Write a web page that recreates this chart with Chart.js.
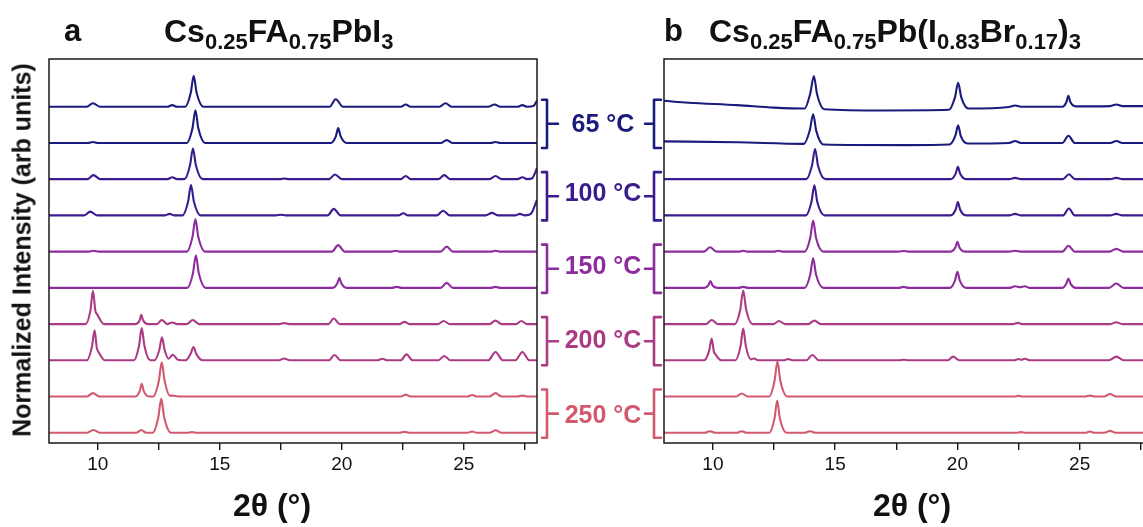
<!DOCTYPE html>
<html><head><meta charset="utf-8">
<script src="https://cdn.jsdelivr.net/npm/chart.js@4"></script>
<style>
html,body{margin:0;padding:0;background:#fff;width:1143px;height:527px;overflow:hidden;position:relative;font-family:"Liberation Sans",Arial,sans-serif;}
canvas{position:absolute;top:0;}
.t{position:absolute;font-weight:bold;color:#111;white-space:nowrap;}
.t sub{font-size:22px;vertical-align:-7px;line-height:0;}
.lab{position:absolute;font-weight:bold;font-size:25px;white-space:nowrap;transform:translate(-50%,-50%);}
</style></head><body>
<canvas id="ca" width="575" height="527" style="left:0"></canvas>
<canvas id="cb" width="563" height="527" style="left:600px"></canvas>
<div class="t" style="left:64px;top:13px;font-size:31px;">a</div>
<div class="t" style="left:164px;top:13px;font-size:32px;">Cs<sub>0.25</sub>FA<sub>0.75</sub>PbI<sub>3</sub></div>
<div class="t" style="left:664px;top:13px;font-size:31px;">b</div>
<div class="t" style="left:709px;top:13px;font-size:32px;">Cs<sub>0.25</sub>FA<sub>0.75</sub>Pb(I<sub>0.83</sub>Br<sub>0.17</sub>)<sub>3</sub></div>
<div class="t" style="left:22px;top:250px;font-size:25px;transform:translate(-50%,-50%) rotate(-90deg);">Normalized Intensity (arb units)</div>
<div class="t" style="left:272px;top:505px;font-size:32px;transform:translate(-50%,-50%);">2θ (°)</div>
<div class="t" style="left:912px;top:505px;font-size:32px;transform:translate(-50%,-50%);">2θ (°)</div>
<div id="labels"></div>
<script>
// ---- data: 2θ (deg) vs normalized intensity ----
const TEMPS = ['65 °C','100 °C','150 °C','200 °C','250 °C'];
const COLORS = ['#1b1b7d','#3b1b8e','#8d2c9c','#ab3b82','#d2596f'];
const X_TICKS = [10,12.5,15,17.5,20,22.5,25,27.5];

// Panel a: Cs0.25FA0.75PbI3 (top to bottom)
const A65a = [[8,0],[9.55,0],[9.8,0.11],[10.1,0],[12.85,0],[13.05,0.05],[13.25,0],[13.58,0],[13.81,0.45],[13.93,1.0],[14.05,0.45],[14.33,0],[19.5,0],[19.75,0.24],[20.05,0],[22.42,0],[22.62,0.07],[22.82,0],[24.0,0],[24.25,0.11],[24.5,0],[26.0,0],[26.26,0.07],[26.5,0],[27.2,0],[27.4,0.05],[27.6,0],[27.85,0.02],[28,0.2]];
const A65b = [[8,0],[9.6,0],[9.8,0.03],[10.0,0],[13.65,0],[13.88,0.47],[14.0,1.05],[14.12,0.47],[14.4,0],[19.55,0],[19.76,0.22],[19.85,0.48],[19.95,0.22],[20.2,0],[24.05,0],[24.3,0.09],[24.55,0],[26.1,0],[26.3,0.03],[26.5,0],[28,0]];
const A100a = [[8,0],[9.57,0],[9.82,0.13],[10.1,0],[12.85,0],[13.05,0.06],[13.25,0],[13.55,0],[13.78,0.45],[13.9,0.99],[14.02,0.45],[14.3,0],[17.45,0],[17.64,0.02],[17.85,0],[19.47,0],[19.72,0.15],[20.0,0],[22.42,0],[22.62,0.1],[22.82,0],[23.95,0],[24.2,0.13],[24.45,0],[26.05,0],[26.3,0.1],[26.55,0],[27.2,0],[27.4,0.06],[27.6,0],[27.8,0.03],[28,0.35]];
const A100b = [[8,0],[9.44,0],[9.69,0.12],[9.97,0],[12.74,0],[12.94,0.05],[13.14,0],[13.47,0],[13.7,0.44],[13.82,0.98],[13.94,0.44],[14.22,0],[17.3,0],[17.5,0.02],[17.7,0],[19.42,0],[19.67,0.21],[19.95,0],[22.32,0],[22.52,0.07],[22.72,0],[23.9,0],[24.15,0.15],[24.42,0],[25.9,0],[26.15,0.08],[26.4,0],[27.1,0],[27.3,0.05],[27.5,0],[27.75,0.05],[28,0.5]];
const A150a = [[8,0],[9.6,0],[9.82,0.03],[10.05,0],[13.65,0],[13.88,0.47],[14.0,1.05],[14.12,0.47],[14.4,0],[19.6,0],[19.85,0.21],[20.12,0],[22.0,0],[22.2,0.03],[22.4,0],[24.05,0],[24.3,0.16],[24.55,0],[26.1,0],[26.3,0.03],[26.5,0],[28,0]];
const A150b = [[8,0],[13.67,0],[13.9,0.47],[14.02,1.05],[14.14,0.47],[14.42,0],[19.62,0],[19.82,0.15],[19.9,0.32],[19.98,0.15],[20.2,0],[22.05,0],[22.25,0.03],[22.45,0],[24.05,0],[24.3,0.16],[24.55,0],[26.1,0],[26.3,0.03],[26.5,0],[28,0]];
const A200a = [[8,0],[9.5,0],[9.7,0.45],[9.8,1.07],[9.9,0.42],[9.97,0.32],[10.25,0],[11.55,0],[11.72,0.13],[11.78,0.3],[11.85,0.13],[12.05,0],[12.42,0],[12.62,0.13],[12.85,0],[13.05,0.05],[13.25,0],[13.65,0],[13.89,0.13],[14.15,0],[17.44,0],[17.64,0.03],[17.84,0],[19.45,0],[19.67,0.18],[19.92,0],[22.37,0],[22.57,0.07],[22.77,0],[23.95,0],[24.17,0.1],[24.42,0],[26.05,0],[26.3,0.11],[26.55,0],[27.15,0],[27.36,0.1],[27.58,0],[28,0]];
const A200b = [[8,0],[9.55,0],[9.76,0.44],[9.87,0.97],[9.96,0.4],[10.03,0.27],[10.3,0],[11.48,0],[11.69,0.47],[11.8,1.04],[11.91,0.47],[12.15,0],[12.32,0],[12.52,0.33],[12.63,0.74],[12.74,0.33],[12.9,0.05],[13.07,0.18],[13.28,0.02],[13.6,0],[13.8,0.2],[13.92,0.43],[14.04,0.2],[14.3,0],[17.42,0],[17.64,0.06],[17.86,0],[19.47,0],[19.7,0.17],[19.95,0],[21.46,0],[21.66,0.05],[21.86,0],[22.42,0],[22.65,0.19],[22.9,0],[23.95,0],[24.2,0.14],[24.45,0],[26.0,0],[26.3,0.27],[26.6,0],[27.12,0],[27.4,0.27],[27.68,0],[28,0]];
const A250a = [[8,0],[9.55,0],[9.8,0.11],[10.07,0],[11.55,0],[11.72,0.18],[11.8,0.41],[11.88,0.18],[12.1,0],[12.27,0],[12.5,0.5],[12.62,1.1],[12.74,0.5],[12.95,0.03],[13.05,0.03],[13.3,0],[22.42,0],[22.62,0.06],[22.82,0],[25.14,0],[25.34,0.05],[25.54,0],[26.05,0],[26.3,0.11],[26.55,0],[27.2,0],[27.4,0.03],[27.6,0],[28,0]];
const A250b = [[8,0],[9.55,0],[9.82,0.09],[10.1,0],[11.58,0],[11.78,0.09],[11.98,0],[12.25,0],[12.48,0.5],[12.6,1.1],[12.72,0.5],[13.0,0],[13.66,0],[13.86,0.02],[14.06,0],[22.37,0],[22.57,0.03],[22.77,0],[25.14,0],[25.34,0.04],[25.54,0],[26.05,0],[26.3,0.08],[26.55,0],[28,0]];

// Panel b: Cs0.25FA0.75Pb(I0.83Br0.17)3 (top to bottom)
const B65a = [[8,0.19],[9,0.13],[11,0.05],[12.5,-0.03],[13.75,-0.06],[13.98,0.42],[14.13,0.99],[14.26,0.4],[14.55,-0.08],[17,-0.12],[19.65,-0.1],[19.9,0.3],[20.03,0.77],[20.16,0.3],[20.45,-0.06],[22.1,-0.01],[22.36,0.04],[22.6,0],[24.3,0],[24.46,0.15],[24.54,0.35],[24.62,0.15],[24.85,0.01],[26.25,0.02],[26.5,0.07],[26.75,0.02],[28,0.02]];
const B65b = [[8,0.05],[11,0.02],[13.72,-0.03],[13.96,0.4],[14.1,0.92],[14.23,0.38],[14.52,-0.05],[18,-0.07],[19.68,-0.05],[19.92,0.24],[20.03,0.57],[20.14,0.22],[20.42,-0.02],[22.12,0],[22.36,0.06],[22.6,0],[24.3,0],[24.54,0.23],[24.8,0],[26.25,0],[26.5,0.06],[26.75,0],[28,0]];
const B100a = [[8,0],[13.82,0],[14.05,0.43],[14.18,0.97],[14.3,0.43],[14.6,0],[19.72,0],[19.93,0.18],[20.02,0.4],[20.11,0.18],[20.35,0],[22.12,0],[22.36,0.04],[22.6,0],[24.32,0],[24.56,0.16],[24.8,0],[26.25,0],[26.5,0.04],[26.75,0],[28,0]];
const B100b = [[8,0],[13.8,0],[14.03,0.43],[14.15,0.97],[14.27,0.43],[14.57,0],[19.72,0],[19.93,0.19],[20.02,0.43],[20.11,0.19],[20.35,0],[22.12,0],[22.36,0.05],[22.6,0],[24.32,0],[24.56,0.22],[24.8,0],[26.25,0],[26.5,0.05],[26.75,0],[28,0]];
const B150a = [[8,0],[9.63,0],[9.88,0.14],[10.15,0],[11.04,0],[11.24,0.03],[11.44,0],[12.48,0],[12.68,0.03],[12.88,0],[13.75,0],[13.98,0.44],[14.1,1.0],[14.22,0.44],[14.52,0],[17.6,0],[17.8,0.02],[18.0,0],[19.72,0],[19.92,0.14],[20.0,0.32],[20.08,0.14],[20.3,0],[22.12,0],[22.36,0.03],[22.6,0],[24.3,0],[24.54,0.19],[24.8,0],[26.22,0],[26.5,0.09],[26.78,0],[28,0]];
const B150b = [[8,0],[9.65,0],[9.82,0.09],[9.9,0.22],[9.98,0.09],[10.2,0],[11.04,0],[11.24,0.03],[11.44,0],[13.75,0],[13.98,0.42],[14.1,0.95],[14.22,0.42],[14.52,0],[17.6,0],[17.8,0.03],[18.0,0],[19.7,0],[19.9,0.23],[20.0,0.52],[20.1,0.23],[20.35,0],[22.15,0],[22.36,0.05],[22.55,0.02],[22.76,0.05],[22.96,0],[24.3,0],[24.45,0.13],[24.54,0.3],[24.63,0.13],[24.85,0],[26.2,0],[26.5,0.14],[26.8,0],[28,0]];
const B200a = [[8,0],[9.72,0],[9.95,0.13],[10.2,0],[10.9,0],[11.12,0.47],[11.24,1.08],[11.36,0.47],[11.62,0],[12.48,0],[12.7,0.1],[12.95,0],[13.9,0],[14.15,0.11],[14.42,0],[22.27,0],[22.47,0.04],[22.67,0],[26.25,0],[26.5,0.06],[26.75,0],[28,0]];
const B200b = [[8,0],[9.64,0],[9.85,0.32],[9.95,0.7],[10.04,0.28],[10.1,0.2],[10.35,0],[10.92,0],[11.13,0.45],[11.24,1.02],[11.35,0.45],[11.55,0.03],[11.68,0.06],[11.85,0],[12.88,0],[13.08,0.04],[13.28,0],[13.82,0],[14.07,0.17],[14.33,0],[17.6,0],[17.8,0.02],[18.0,0],[19.6,0],[19.83,0.12],[20.08,0],[22.3,0],[22.5,0.04],[22.62,0.02],[22.76,0.05],[22.96,0],[26.2,0],[26.5,0.12],[26.8,0],[28,0]];
const B250a = [[8,0],[10.95,0],[11.18,0.1],[11.42,0],[12.3,0],[12.52,0.5],[12.64,1.13],[12.76,0.5],[13.05,0],[22.3,0],[22.5,0.02],[22.7,0],[25.22,0],[25.42,0.03],[25.62,0],[26.0,0],[26.24,0.08],[26.5,0],[28,0]];
const B250b = [[8,0],[9.66,0],[9.88,0.05],[10.1,0],[10.98,0],[11.18,0.05],[11.38,0],[12.3,0],[12.52,0.46],[12.63,1.04],[12.74,0.46],[13.02,0],[13.75,0],[13.97,0.05],[14.2,0],[22.4,0],[22.6,0.02],[22.8,0],[25.22,0],[25.42,0.04],[25.62,0],[26.0,0],[26.24,0.06],[26.48,0],[28,0]];

const SERIES_A = [A65a,A65b,A100a,A100b,A150a,A150b,A200a,A200b,A250a,A250b];
const SERIES_B = [B65a,B65b,B100a,B100b,B150a,B150b,B200a,B200b,B250a,B250b];

// ---- layout ----
const STEP = 1.168;          // vertical offset between stacked traces
const FONT = '"Liberation Sans", Arial, sans-serif';

const boxPlugin = {
  id: 'box',
  afterDraw(chart, args, opts) {
    const {ctx, chartArea: a, scales} = chart;
    ctx.save();
    ctx.strokeStyle = '#1a1a1a'; ctx.lineWidth = 1.5;
    ctx.strokeRect(a.left, a.top, a.right - a.left, a.bottom - a.top);
    // temperature brackets
    ctx.lineWidth = 2.6; ctx.lineJoin = 'round'; ctx.lineCap = 'round';
    for (let g = 0; g < 5; g++) {
      const yt = scales.y.getPixelForValue((9 - 2*g) * STEP) - 7;
      const yb = scales.y.getPixelForValue((8 - 2*g) * STEP) + 5;
      const ym = (yt + yb) / 2;
      ctx.strokeStyle = COLORS[g];
      ctx.beginPath();
      if (opts.side === 'right') {
        const xv = a.right + 10;
        ctx.moveTo(xv - 5, yt); ctx.lineTo(xv, yt); ctx.lineTo(xv, yb); ctx.lineTo(xv - 5, yb);
        ctx.moveTo(xv, ym); ctx.lineTo(xv + 11, ym);
      } else {
        const xv = a.left - 10;
        ctx.moveTo(xv + 7, yt); ctx.lineTo(xv, yt); ctx.lineTo(xv, yb); ctx.lineTo(xv + 7, yb);
        ctx.moveTo(xv, ym); ctx.lineTo(xv - 9, ym);
      }
      ctx.stroke();
    }
    ctx.restore();
  }
};

function makeChart(id, series, padL, padR, side) {
  const datasets = series.map((arr, i) => ({
    data: arr.map(([x, y]) => ({x, y: y + (9 - i) * STEP})),
    borderColor: COLORS[Math.floor(i / 2)],
    borderWidth: 2.1,
    pointRadius: 0,
    fill: false,
    tension: 0.3,
    cubicInterpolationMode: 'monotone'
  }));
  return new Chart(document.getElementById(id), {
    type: 'line',
    data: {datasets},
    options: {
      responsive: false, animation: false, events: [],
      layout: {padding: {left: padL, right: padR, top: 59, bottom: 0}},
      plugins: {legend: {display: false}, tooltip: {enabled: false}, box: {side}},
      scales: {
        x: {
          type: 'linear', min: 8, max: 28,
          afterBuildTicks: s => { s.ticks = X_TICKS.map(v => ({value: v})); },
          afterFit: s => { s.height = 84; },
          border: {display: false},
          grid: {display: true, drawOnChartArea: false, drawTicks: true, tickLength: 7, color: '#1a1a1a', lineWidth: 1.4},
          ticks: {autoSkip: false, maxRotation: 0, padding: 3, color: '#111',
                  font: {family: FONT, size: 19},
                  callback: v => (v % 5 === 0 ? String(v) : '')}
        },
        y: {display: false, min: -0.33, max: 12.05}
      }
    },
    plugins: [boxPlugin]
  });
}
makeChart('ca', SERIES_A, 49, 38, 'right');
makeChart('cb', SERIES_B, 64, 10, 'left');

// temperature labels
const LABEL_Y = [123, 192, 265, 339, 414];
const labels = document.getElementById('labels');
TEMPS.forEach((t, g) => {
  const d = document.createElement('div');
  d.className = 'lab';
  d.style.left = '603px'; d.style.top = LABEL_Y[g] + 'px'; d.style.color = COLORS[g];
  d.textContent = t;
  labels.appendChild(d);
});
</script>
</body></html>
